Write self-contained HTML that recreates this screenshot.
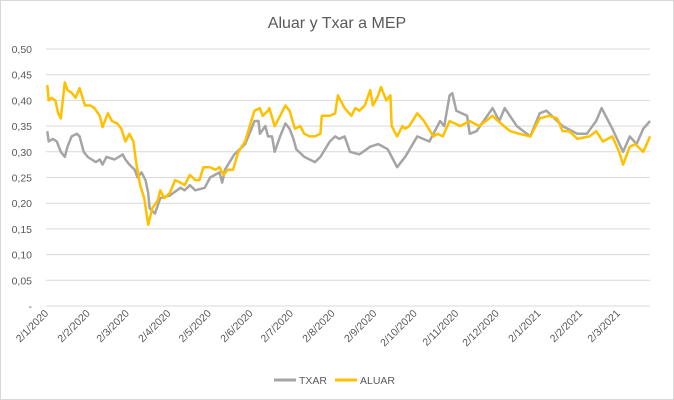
<!DOCTYPE html>
<html><head><meta charset="utf-8"><style>
body{margin:0;background:#fff;}
svg{display:block;font-family:"Liberation Sans",sans-serif;}
</style></head><body>
<svg id="chart" width="674" height="400" viewBox="0 0 674 400">
<rect x="0.5" y="0.5" width="673" height="399" fill="#fff" stroke="#d9d9d9"/>
<text x="337" y="28" text-anchor="middle" font-size="16" fill="#595959">Aluar y Txar a  MEP</text>
<g id="grid"></g><g id="ylabels"></g><g id="xlabels"></g><g id="series"></g>
<g>
<line x1="274" y1="380" x2="296" y2="380" stroke="#a5a5a5" stroke-width="3"/>
<text x="299" y="384" font-size="10.5" fill="#595959">TXAR</text>
<line x1="335" y1="380" x2="357" y2="380" stroke="#ffc000" stroke-width="3"/>
<text x="360" y="384" font-size="10.5" fill="#595959">ALUAR</text>
</g>
</svg>
<script>
const yTicks=[0,0.05,0.10,0.15,0.20,0.25,0.30,0.35,0.40,0.45,0.50];
const yTickLabels=["-","0,05","0,10","0,15","0,20","0,25","0,30","0,35","0,40","0,45","0,50"];
const xTickDays=[0,31,60,91,121,152,182,213,244,274,305,335,366,397,425];
const xTickLabels=["2/1/2020","2/2/2020","2/3/2020","2/4/2020","2/5/2020","2/6/2020","2/7/2020","2/8/2020","2/9/2020","2/10/2020","2/11/2020","2/12/2020","2/1/2021","2/2/2021","2/3/2021"];
const aluarDays=[1,2,4,7,9,11,14,16,19,22,25,29,33,36,40,42,46,49,53,56,59,62,65,67,70,73,76,79,83,85,88,92,96,100,103,107,111,114,117,122,126,129,132,135,139,143,148,152,155,159,161,165,166,170,174,178,181,185,189,192,196,200,204,205,211,215,217,222,227,230,233,237,241,243,247,249,253,256,257,261,265,267,270,276,281,288,291,295,300,308,315,322,332,336,345,352,360,367,374,380,384,389,395,404,409,414,421,426,429,434,438,444,449];
const aluarValues=[.43,.40,.405,.40,.375,.365,.435,.42,.415,.405,.424,.39,.39,.385,.37,.348,.375,.36,.355,.345,.32,.335,.32,.28,.235,.21,.158,.19,.205,.225,.21,.22,.245,.24,.235,.255,.245,.245,.27,.27,.265,.27,.255,.265,.265,.30,.32,.355,.38,.385,.37,.38,.385,.35,.37,.39,.38,.345,.35,.335,.33,.33,.335,.37,.37,.375,.41,.385,.37,.385,.38,.39,.42,.39,.41,.426,.40,.41,.35,.33,.35,.345,.35,.375,.36,.33,.335,.33,.36,.35,.36,.35,.37,.36,.34,.335,.33,.365,.37,.365,.34,.34,.325,.33,.34,.32,.33,.30,.275,.31,.315,.30,.33];
const txarDays=[1,2,5,8,11,14,16,19,23,25,28,31,34,37,40,42,45,51,57,59,62,66,68,71,74,76,77,81,85,92,100,103,107,111,118,122,129,131,133,140,148,152,155,158,159,163,165,168,170,174,178,181,184,186,192,200,204,211,215,218,222,226,233,241,247,254,258,261,267,276,285,293,296,300,302,305,313,315,320,332,337,341,350,360,367,372,384,395,402,409,413,421,429,434,439,444,449];
const txarValues=[.34,.32,.325,.32,.30,.29,.31,.33,.335,.33,.30,.29,.285,.28,.285,.275,.29,.285,.295,.285,.275,.265,.25,.26,.245,.22,.19,.18,.21,.215,.23,.225,.235,.225,.23,.25,.26,.24,.265,.295,.315,.34,.36,.36,.335,.35,.33,.33,.30,.33,.355,.345,.325,.305,.29,.28,.29,.32,.33,.325,.33,.30,.295,.31,.315,.305,.285,.27,.29,.33,.32,.36,.35,.41,.414,.38,.37,.335,.34,.385,.36,.385,.35,.33,.375,.38,.35,.335,.335,.36,.385,.345,.30,.33,.315,.345,.36];
const NS="http://www.w3.org/2000/svg";
const X0=46,PXD=604/449,Y0=306,PYV=514;
function xs(d){return X0+d*PXD;}
function ys(v){return Y0-v*PYV;}
function mk(t,a,p){const e=document.createElementNS(NS,t);for(const k in a)e.setAttribute(k,a[k]);p.appendChild(e);return e;}
const grid=document.getElementById('grid'),yl=document.getElementById('ylabels'),xl=document.getElementById('xlabels'),sr=document.getElementById('series');
yTicks.forEach((v,i)=>{
 const l=mk('line',{x1:X0,x2:650,y1:ys(v),y2:ys(v),stroke:'#d9d9d9','stroke-width':1},grid);
 
 
 const t=mk('text',{x:32,y:ys(v)+4,'text-anchor':'end','font-size':'10.5',fill:'#595959'},yl);
 
 
 t.textContent=yTickLabels[i];
});
xTickDays.forEach((d,i)=>{
 const x=xs(d)+3,y=314;
 const t=mk('text',{x:x,y:y,'text-anchor':'end','font-size':'10.5',fill:'#595959',transform:`rotate(-45 ${x} ${y})`},xl);
 
 
 t.textContent=xTickLabels[i];
});
function line(days,vals,color,name){
 const p=mk('polyline',{points:days.map((d,i)=>xs(d).toFixed(1)+','+ys(vals[i]).toFixed(1)).join(' '),fill:'none',stroke:color,'stroke-width':2.5,'stroke-linejoin':'round'},sr);
 
 
}
line(txarDays,txarValues,'#a5a5a5','txar-line');
line(aluarDays,aluarValues,'#ffc000','aluar-line');
</script>
</body></html>
